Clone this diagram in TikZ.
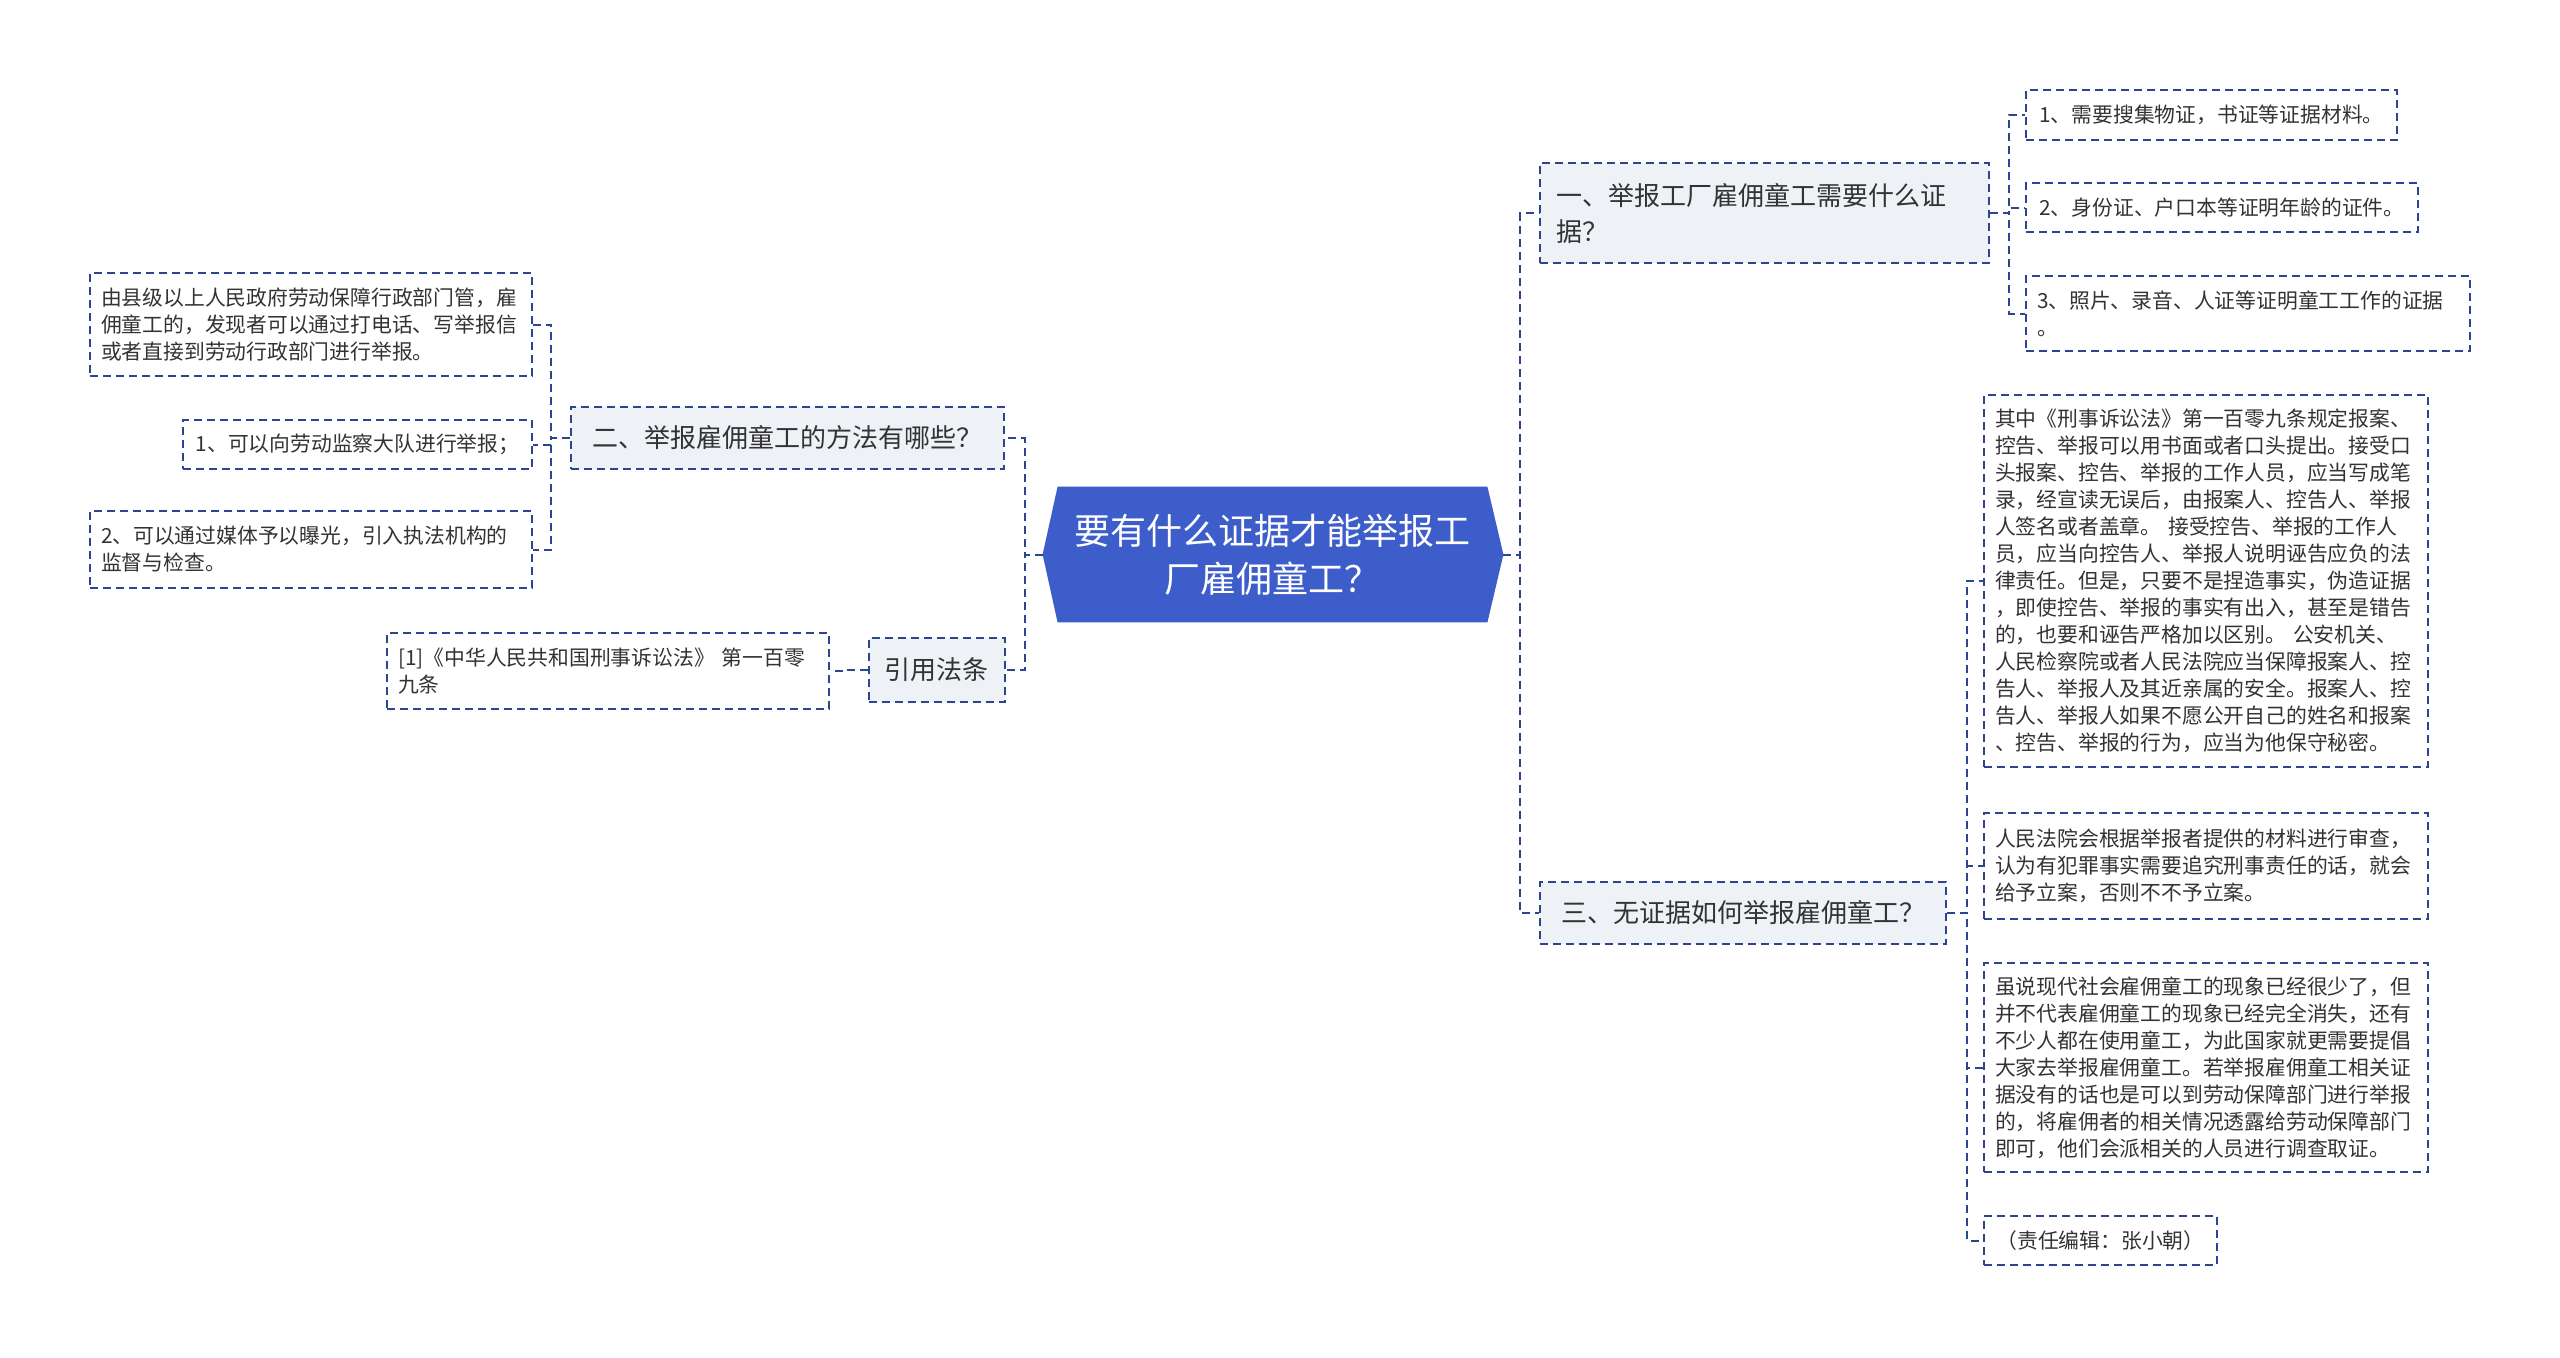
\documentclass[tikz,border=0pt]{standalone}
\usepackage{fontspec}
\setmainfont{Noto Sans CJK SC}
\usetikzlibrary{backgrounds}
\definecolor{rootblue}{HTML}{3C5DCA}
\definecolor{linkblue}{HTML}{2B4590}
\definecolor{boxgray}{HTML}{EEF1F6}
\definecolor{textgray}{HTML}{333333}

\begin{document}
\begin{tikzpicture}[x=0.5pt,y=-0.5pt,
  link/.style={draw=linkblue,line width=1pt,dash pattern=on 4pt off 2.5pt},
  box/.style={link,align=left,text=textgray,inner ysep=0pt},
  lvone/.style={box,fill=boxgray,inner xsep=8pt,font=\fontsize{13pt}{18pt}\selectfont},
  leaf/.style={box,fill=white,inner xsep=5.5pt,font=\fontsize{10.4pt}{13.5pt}\selectfont}]
\useasboundingbox (0,0) rectangle (2560,1357);

% centre
\node[text=white,align=center,minimum width=214.5pt,minimum height=67.5pt,
  font=\fontsize{18pt}{24pt}\selectfont] (root) at (1272.5,554.5) {要有什么证据才能举报工\\厂雇佣童工？};
\coordinate (rootL) at ([xshift=-7.5pt]root.west);
\coordinate (rootR) at ([xshift=8pt]root.east);
\begin{scope}[on background layer]
\fill[white] (0,0) rectangle (2560,1357);
\fill[rootblue] (root.north west) -- (root.north east) -- (rootR) -- (root.south east)
  -- (root.south west) -- (rootL) -- cycle;
\end{scope}

% left side
\node[lvone,minimum width=216.5pt,minimum height=31pt] (lone) at (787.5,438) {二、举报雇佣童工的方法有哪些？};
\node[lvone,minimum width=67.5pt,minimum height=32pt] (ltwo) at (936.5,670) {引用法条};

\node[leaf,text width=210pt,minimum height=51.5pt] (lonea) at (311,324.5) {由县级以上人民政府劳动保障行政部门管，雇\\佣童工的，发现者可以通过打电话、写举报信\\或者直接到劳动行政部门进行举报。};
\node[leaf,minimum width=174.5pt,minimum height=24.5pt] (loneb) at (357.5,444.5) {1、可以向劳动监察大队进行举报；};
\node[leaf,text width=210pt,minimum height=38.5pt] (lonec) at (311,549.5) {2、可以通过媒体予以曝光，引入执法机构的\\监督与检查。};
\node[leaf,text width=210pt,minimum height=38pt] (ltwoa) at (608,671) {{[1]}《中华人民共和国刑事诉讼法》 第一百零\\九条};

% right side
\node[lvone,text width=208.5pt,minimum height=50pt] (rone) at (1764.5,213) {一、举报工厂雇佣童工需要什么证\\据？};
\node[lvone,minimum width=203pt,minimum height=31pt] (rtwo) at (1743,913) {三、无证据如何举报雇佣童工？};

\node[leaf,minimum width=185.5pt,minimum height=25pt] (ronea) at (2211.5,115) {1、需要搜集物证，书证等证据材料。};
\node[leaf,minimum width=196pt,minimum height=24.5pt] (roneb) at (2222,207.5) {2、身份证、户口本等证明年龄的证件。};
\node[leaf,text width=211pt,minimum height=37.5pt] (ronec) at (2248,313.5) {3、照片、录音、人证等证明童工工作的证据\\。};

\node[leaf,text width=211pt,minimum height=186pt] (rtwoa) at (2206,581) {其中《刑事诉讼法》第一百零九条规定报案、\\控告、举报可以用书面或者口头提出。接受口\\头报案、控告、举报的工作人员，应当写成笔\\录，经宣读无误后，由报案人、控告人、举报\\人签名或者盖章。 接受控告、举报的工作人\\员，应当向控告人、举报人说明诬告应负的法\\律责任。但是，只要不是捏造事实，伪造证据\\，即使控告、举报的事实有出入，甚至是错告\\的，也要和诬告严格加以区别。 公安机关、\\人民检察院或者人民法院应当保障报案人、控\\告人、举报人及其近亲属的安全。报案人、控\\告人、举报人如果不愿公开自己的姓名和报案\\、控告、举报的行为，应当为他保守秘密。};
\node[leaf,text width=211pt,minimum height=53pt] (rtwob) at (2206,866) {人民法院会根据举报者提供的材料进行审查，\\认为有犯罪事实需要追究刑事责任的话，就会\\给予立案，否则不不予立案。};
\node[leaf,text width=211pt,minimum height=104.5pt] (rtwoc) at (2206,1067.5) {虽说现代社会雇佣童工的现象已经很少了，但\\并不代表雇佣童工的现象已经完全消失，还有\\不少人都在使用童工，为此国家就更需要提倡\\大家去举报雇佣童工。若举报雇佣童工相关证\\据没有的话也是可以到劳动保障部门进行举报\\的，将雇佣者的相关情况透露给劳动保障部门\\即可，他们会派相关的人员进行调查取证。};
\node[leaf,minimum width=116.5pt,minimum height=24.5pt] (rtwod) at (2100.5,1240.5) {（责任编辑：张小朝）};

% connectors
\draw[link] (rootL) -- ++(-9pt,0) |- (lone.east);
\draw[link] (rootL) -- ++(-9pt,0) |- (ltwo.east);
\draw[link] (rootR) -- ++(8.5pt,0) |- (rone.west);
\draw[link] (rootR) -- ++(8.5pt,0) |- (rtwo.west);

\foreach \c in {lonea,loneb,lonec}
  \draw[link] (lone.west) -- ++(-9.5pt,0) |- (\c.east);
\draw[link] (ltwo.west) -- ++(-10pt,0) |- (ltwoa.east);
\foreach \c in {ronea,roneb,ronec}
  \draw[link] (rone.east) -- ++(9.5pt,0) |- (\c.west);
\foreach \c in {rtwoa,rtwob,rtwoc,rtwod}
  \draw[link] (rtwo.east) -- ++(10pt,0) |- (\c.west);
\end{tikzpicture}
\end{document}
